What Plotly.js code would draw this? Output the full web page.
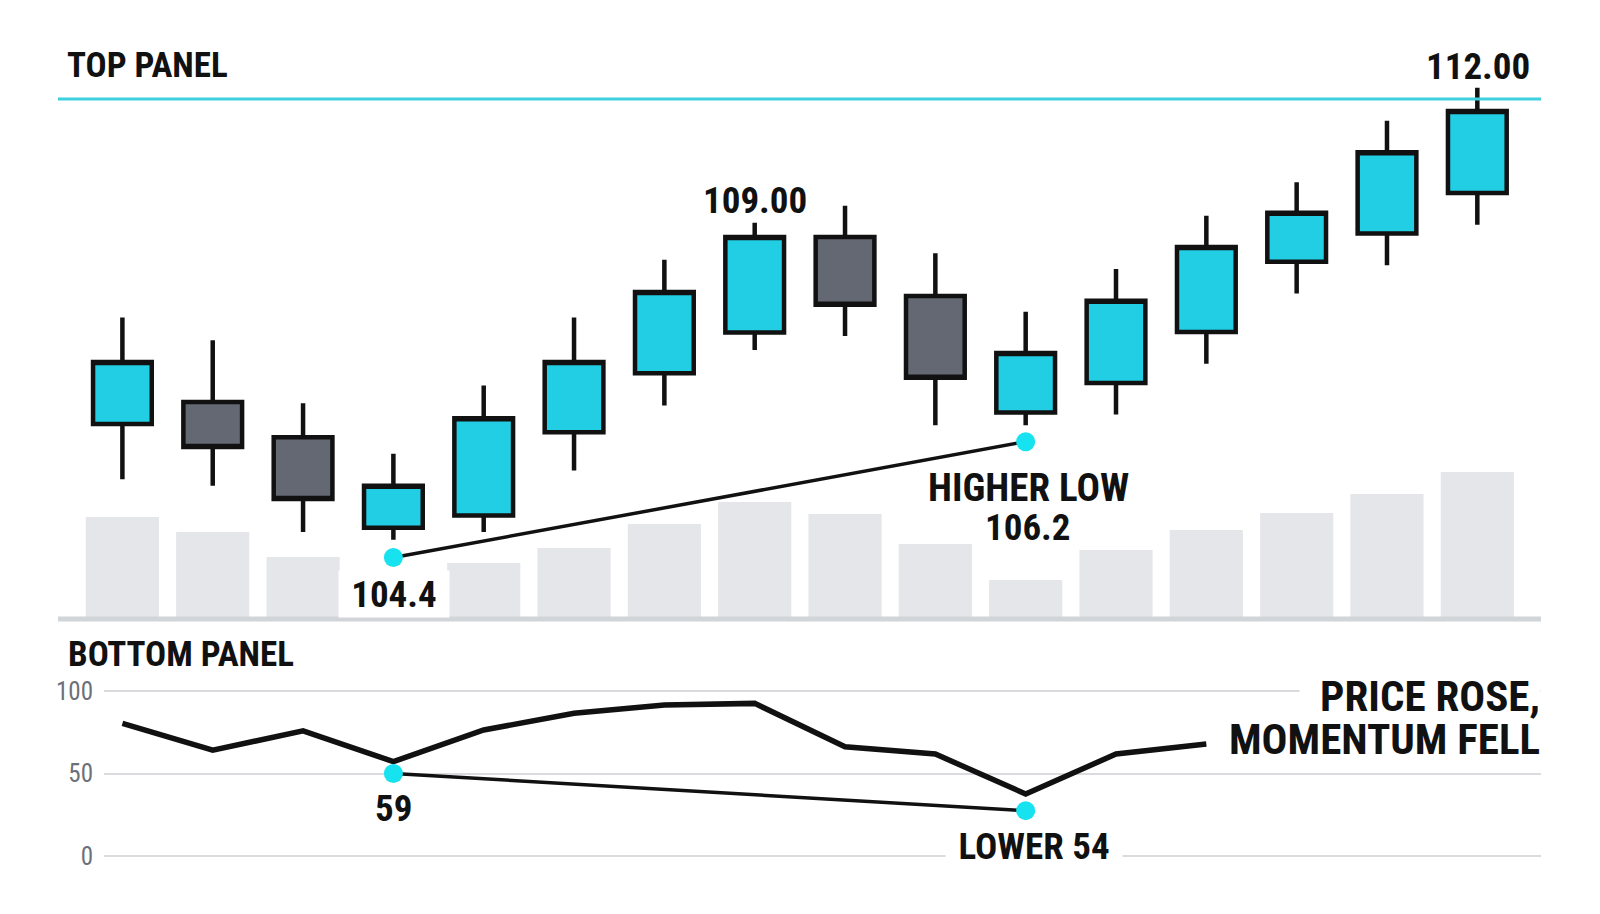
<!DOCTYPE html>
<html>
<head>
<meta charset="utf-8">
<script src="https://cdn.plot.ly/plotly-3.0.1.min.js"></script>
<style>
  html, body { margin: 0; padding: 0; background: #fff; }
  #chart { width: 1600px; height: 914px; }
</style>
</head>
<body>
<div id="chart"></div>
<script>
// sessions (one per candle)
var sessions = [0, 1, 2, 3, 4, 5, 6, 7, 8, 9, 10, 11, 12, 13, 14, 15];

// price candles
var open  = [104.12, 104.65, 103.80, 101.60, 101.90, 103.92, 105.35, 106.34, 108.65, 107.22, 104.40, 105.11, 106.35, 108.05, 108.74, 109.72];
var close = [105.62, 103.56, 102.30, 102.62, 104.26, 105.62, 107.32, 108.65, 107.01, 105.24, 105.84, 107.11, 108.41, 109.24, 110.71, 111.71];
var high  = [106.70, 106.15, 104.62, 103.40, 105.05, 106.70, 108.10, 109.00, 109.41, 108.26, 106.84, 107.88, 109.17, 109.98, 111.47, 112.27];
var low   = [102.78, 102.62, 101.50, 101.31, 101.50, 102.99, 104.57, 105.91, 106.25, 104.09, 104.09, 104.35, 105.58, 107.28, 107.97, 108.95];

// volume (background bars)
var volume = [102, 87, 62, 30, 56, 71, 95, 117, 105, 75, 39, 69, 89, 106, 125, 147];

// momentum oscillator (bottom panel)
var momSessions = [0, 1, 2, 3, 4, 5, 6, 7, 8, 9, 10, 11, 12];
var momentum = [80.4, 64.2, 75.8, 57.2, 76.4, 86.5, 91.5, 92.5, 66.2, 61.8, 37.6, 61.8, 67.9];

// divergence pivots
var pivotSessions = [3, 10];
var pricePivots = [100.88, 103.69];
var momPivots = [50, 27.5];

var resistance = 112;

var CYAN = '#22cee4';
var DOT = '#17e2ef';
var GREY = '#646873';
var INK = '#111111';
var FONT = 'Liberation Sans Narrow, Roboto Condensed, Arial Narrow, DejaVu Sans Condensed, sans-serif';

var traces = [
  {
    type: 'bar', x: sessions, y: volume, xaxis: 'x', yaxis: 'y',
    width: 0.81, marker: { color: '#e4e6e9' }, hoverinfo: 'skip'
  },
  {
    type: 'candlestick', x: sessions, open: open, high: high, low: low, close: close,
    xaxis: 'x', yaxis: 'y2', whiskerwidth: 0,
    increasing: { line: { color: INK, width: 4.5 }, fillcolor: CYAN },
    decreasing: { line: { color: INK, width: 4.5 }, fillcolor: GREY }
  },
  {
    type: 'scatter', mode: 'lines+markers', x: pivotSessions, y: pricePivots,
    xaxis: 'x', yaxis: 'y2',
    line: { color: INK, width: 3.5 }, marker: { color: DOT, size: 19 }
  },
  {
    type: 'scatter', mode: 'lines', x: momSessions, y: momentum,
    xaxis: 'x2', yaxis: 'y3',
    line: { color: INK, width: 5.5 }
  },
  {
    type: 'scatter', mode: 'lines+markers', x: pivotSessions, y: momPivots,
    xaxis: 'x2', yaxis: 'y3',
    line: { color: INK, width: 3.5 }, marker: { color: DOT, size: 19 }
  }
];

function px(x) { return x / 1600; }
function py(y) { return 1 - y / 914; }

function label(text, x, y, size, extra) {
  var a = {
    text: text, xref: 'paper', yref: 'paper', x: px(x), y: py(y),
    showarrow: false, xanchor: 'center', yanchor: 'middle', borderpad: 0,
    font: { family: FONT, size: size, color: INK, weight: 700 }
  };
  for (var k in extra) a[k] = extra[k];
  return a;
}

var layout = {
  width: 1600, height: 914,
  margin: { l: 0, r: 0, t: 0, b: 0 },
  paper_bgcolor: '#ffffff', plot_bgcolor: 'rgba(0,0,0,0)',
  showlegend: false,
  boxgap: 0.35, boxgroupgap: 0,
  xaxis: { domain: [px(58), px(1541)], range: [-0.713, 15.705], visible: false, anchor: 'y', rangeslider: { visible: false } },
  yaxis: { domain: [py(619), py(40)], range: [0, 579], visible: false, anchor: 'x' },
  yaxis2: { overlaying: 'y', range: [99.39, 113.43], visible: false, anchor: 'x' },
  xaxis2: { domain: [px(104), px(1541)], range: [-0.204, 15.705], visible: false, anchor: 'y3' },
  yaxis3: {
    domain: [py(872.5), py(674.5)], range: [-10, 110], anchor: 'x2',
    tickvals: [0, 50, 100], showgrid: true, gridcolor: '#d9dbde', gridwidth: 2,
    zeroline: false, showline: false, ticks: '', ticklabelstandoff: 10,
    tickfont: { family: FONT, size: 25, color: '#6b7079' }
  },
  shapes: [
    { type: 'line', xref: 'paper', yref: 'y2', x0: px(58), x1: px(1541), y0: resistance, y1: resistance,
      line: { color: '#3fd0df', width: 3 } },
    { type: 'line', xref: 'paper', yref: 'paper', x0: px(58), x1: px(1541), y0: py(619), y1: py(619),
      line: { color: '#d1d4d8', width: 5 } }
  ],
  annotations: [
    label('TOP PANEL', 66, 65, 35, { xanchor: 'left' }),
    label('112.00', 1478, 66, 37),
    label('109.00', 755, 200, 37),
    label('104.4', 394, 594, 37, { bgcolor: '#ffffff', width: 110, height: 46 }),
    label('HIGHER LOW', 1028, 488, 39),
    label('106.2', 1028, 527, 37),
    label('BOTTOM PANEL', 67, 654, 35, { xanchor: 'left' }),
    label('59', 393, 808, 37),
    label('LOWER 54', 1034, 846, 37, { bgcolor: '#ffffff', width: 172, borderpad: 2 }),
    label('PRICE ROSE,', 1541, 696, 43, { xanchor: 'right', align: 'right', bgcolor: '#ffffff', width: 240 }),
    label('MOMENTUM FELL', 1541, 739, 43, { xanchor: 'right', align: 'right' })
  ]
};

Plotly.newPlot('chart', traces, layout, { displayModeBar: false, staticPlot: true });
</script>
</body>
</html>
